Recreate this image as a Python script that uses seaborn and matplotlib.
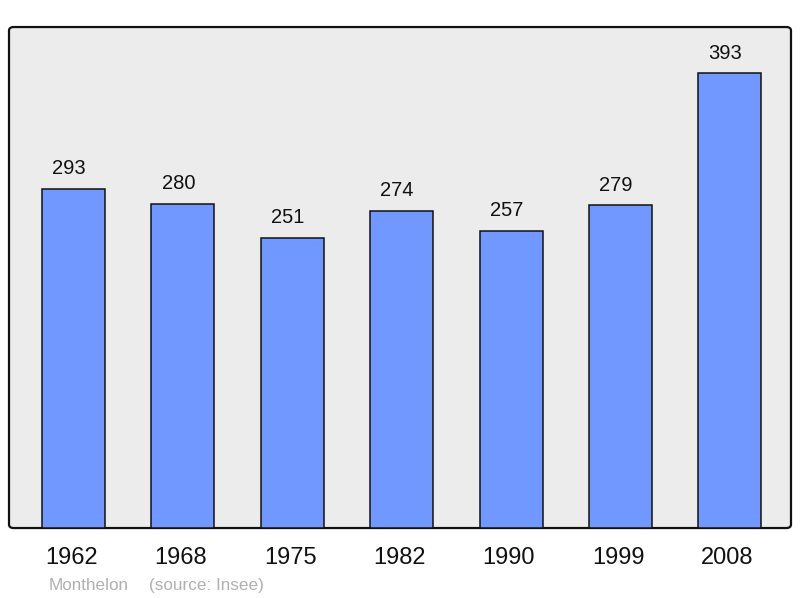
import seaborn as sns
import matplotlib.pyplot as plt
import matplotlib.transforms as mtransforms
import pandas as pd
from matplotlib.patches import FancyBboxPatch

years = ["1962", "1968", "1975", "1982", "1990", "1999", "2008"]
population = [293, 280, 251, 274, 257, 279, 393]

df = pd.DataFrame({"year": years, "pop": population})

sns.set_theme(style="white")
plt.rcParams["font.family"] = ["Liberation Sans", "DejaVu Sans"]

fig = plt.figure(figsize=(8, 5.98), dpi=100)
ax = fig.add_axes([0.01125, 0.117, 0.9775, 0.8378])
ax.set_facecolor("none")

# rounded frame with grey fill behind the bars
frame = FancyBboxPatch((0.01125, 0.117), 0.9775, 0.8378,
                       boxstyle="round,pad=0,rounding_size=0.006",
                       transform=fig.transFigure, facecolor="#ececec",
                       edgecolor="#111111", linewidth=1.6, zorder=-1)
fig.patches.append(frame)

sns.barplot(data=df, x="year", y="pop", color="#7098ff", saturation=1,
            width=0.576, edgecolor="#111111", linewidth=1.1, ax=ax)

for i, v in enumerate(population):
    ax.annotate(str(v), (i, v), xytext=(-3.2, 14.5), textcoords="offset points",
                ha="center", va="center", fontsize=14.5, color="#111111")

ax.set_xlim(-0.59, 6.56)
ax.set_ylim(0, 433)
ax.set_yticks([])
ax.set_xlabel("")
ax.set_ylabel("")
ax.tick_params(axis="x", length=0, labelsize=17, pad=14, labelcolor="#111111")
# year labels sit a touch left of the bar centres
shift = mtransforms.ScaledTranslation(-2.2 / 100, 0, fig.dpi_scale_trans)
for lbl in ax.get_xticklabels():
    lbl.set_transform(lbl.get_transform() + shift)
for s in ax.spines.values():
    s.set_visible(False)

fig.text(49 / 800, 1 - 585.5 / 598, "Monthelon", fontsize=12.3, color="#b0b0b0",
         va="center", ha="left")
fig.text(149 / 800, 1 - 585.5 / 598, "(source: Insee)", fontsize=12.3,
         color="#b0b0b0", va="center", ha="left")

fig.savefig("out.png", dpi=100)
